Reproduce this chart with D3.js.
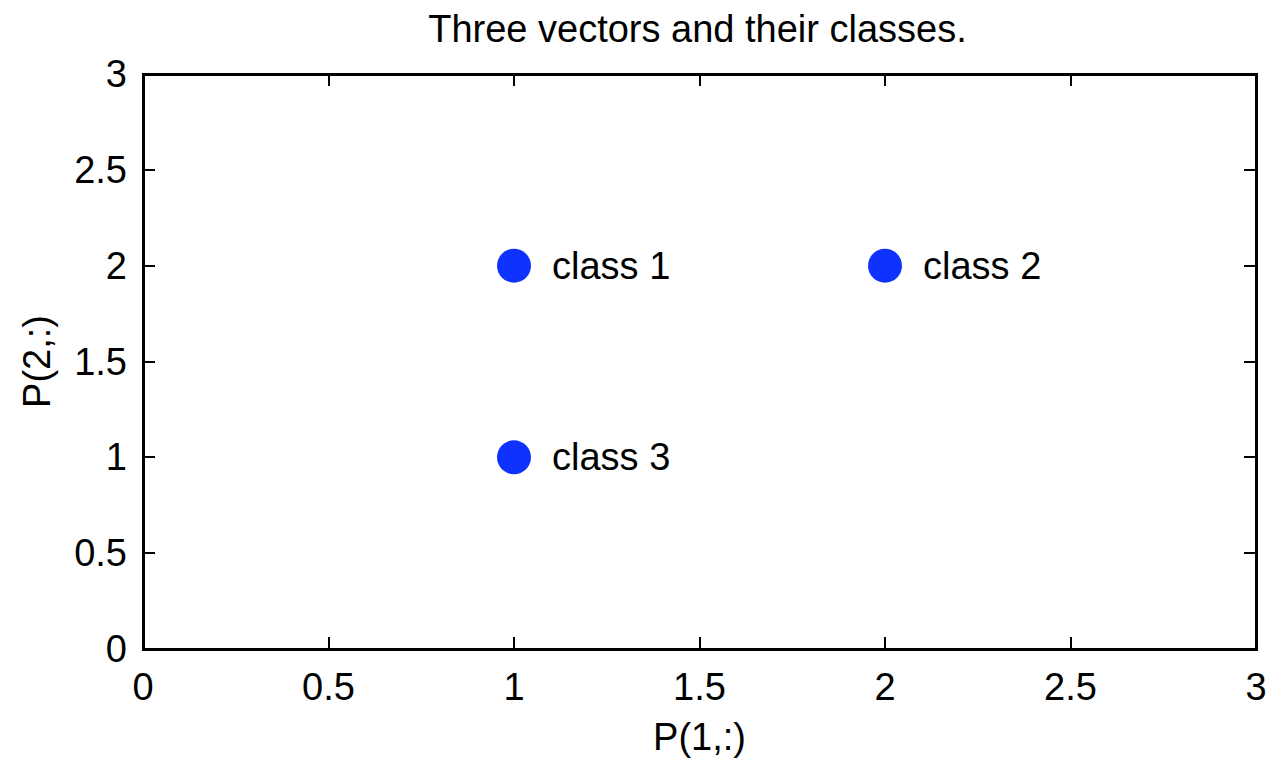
<!DOCTYPE html>
<html><head><meta charset="utf-8">
<script src="https://cdn.jsdelivr.net/npm/d3@7"></script>
<style>body{margin:0;background:#fff}svg{display:block}text{font-family:"Liberation Sans",Arial,sans-serif;fill:#000}</style>
</head><body>
<svg id="c" width="1268" height="760"></svg>
<script>
const xVals = [1, 2, 1];
const yVals = [2, 2, 1];
const pointLabels = ["class 1", "class 2", "class 3"];
const xTicks = [0, 0.5, 1, 1.5, 2, 2.5, 3];
const yTicks = [0, 0.5, 1, 1.5, 2, 2.5, 3];
const title = "Three vectors and their classes.";
const xLabel = "P(1,:)";
const yLabel = "P(2,:)";

const L = 143, R = 1256, T = 74, B = 649;
const svg = d3.select("#c");
const x = d3.scaleLinear().domain([0, 3]).range([L, R]);
const y = d3.scaleLinear().domain([0, 3]).range([B, T]);
const fs = 38;
const fmt = d => String(d);

// ticks inward on all sides
const tl = 12;
const g = svg.append("g").attr("stroke", "#000").attr("stroke-width", 2).attr("shape-rendering", "crispEdges");
xTicks.forEach(t => {
  g.append("line").attr("x1", x(t)).attr("x2", x(t)).attr("y1", B).attr("y2", B - tl);
  g.append("line").attr("x1", x(t)).attr("x2", x(t)).attr("y1", T).attr("y2", T + tl);
});
yTicks.forEach(t => {
  g.append("line").attr("y1", y(t)).attr("y2", y(t)).attr("x1", L).attr("x2", L + tl);
  g.append("line").attr("y1", y(t)).attr("y2", y(t)).attr("x1", R).attr("x2", R - tl);
});
svg.append("rect").attr("x", L).attr("y", T).attr("width", R - L).attr("height", B - T)
  .attr("fill", "none").attr("stroke", "#000").attr("stroke-width", 3).attr("shape-rendering", "crispEdges");

// tick labels
svg.append("g").selectAll("text").data(xTicks).join("text")
  .attr("x", d => x(d)).attr("y", 700).attr("text-anchor", "middle")
  .attr("font-size", fs).text(fmt);
svg.append("g").selectAll("text").data(yTicks).join("text")
  .attr("x", 127).attr("y", d => y(d) + 13).attr("text-anchor", "end")
  .attr("font-size", fs).text(fmt);

// title & axis labels
svg.append("text").attr("x", (L + R) / 2 - 2).attr("y", 42).attr("text-anchor", "middle").attr("font-size", fs).text(title);
svg.append("text").attr("x", (L + R) / 2).attr("y", 750).attr("text-anchor", "middle").attr("font-size", fs).text(xLabel);
svg.append("text").attr("transform", `translate(50,${(T + B) / 2}) rotate(-90)`).attr("text-anchor", "middle").attr("font-size", fs).text(yLabel);

// points
const pts = xVals.map((v, i) => ({x: v, y: yVals[i], label: pointLabels[i]}));
svg.append("g").selectAll("circle").data(pts).join("circle")
  .attr("cx", d => x(d.x)).attr("cy", d => y(d.y)).attr("r", 17).attr("fill", "#0f32ff");
svg.append("g").selectAll("text").data(pts).join("text")
  .attr("x", d => x(d.x) + 38).attr("y", d => y(d.y) + 13).attr("font-size", fs).text(d => d.label);
</script>
</body></html>
